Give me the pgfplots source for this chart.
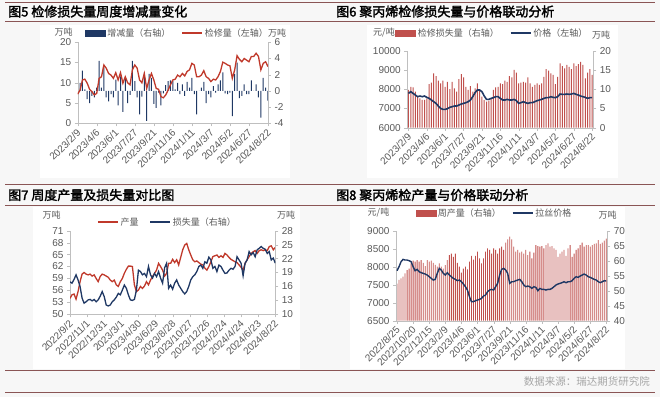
\documentclass[border=0pt]{standalone}
\usepackage{fontspec}
\setmainfont{Liberation Sans}
\newfontfamily\cjk{Noto Sans CJK SC}
\newfontfamily\cjkb{Noto Sans CJK SC}[FakeBold=2]
\usepackage{pgfplots}
\usepackage{pgfplotstable}
\pgfplotsset{compat=1.18}
\definecolor{lred}{HTML}{C0392B}
\definecolor{navyc}{HTML}{1F3864}
\definecolor{barred}{HTML}{C0504D}
\definecolor{rulec}{HTML}{8A5555}
\definecolor{tickc}{HTML}{595959}
\definecolor{axc}{HTML}{BFBFBF}
\pgfplotsset{
  base/.style={scale only axis, axis line style={axc}, major tick style={axc},
    major tick length=3pt, tick align=outside, scaled y ticks=false, scaled x ticks=false,
    yticklabel style={font=\fontsize{10}{10}\selectfont, text=tickc},
    /pgf/number format/assume math mode=true,
    /pgf/number format/1000 sep={}, enlargelimits=false},
  dates/.style={xticklabel style={rotate=45, anchor=east, font=\fontsize{10}{10}\selectfont, text=tickc, xshift=1pt, yshift=-4pt}},
  leg/.style={legend columns=2, draw=none, fill=none, inner sep=0pt,
    font=\cjk\fontsize{9}{10}\selectfont, text=tickc,
    /tikz/every even column/.append style={column sep=9pt}},
  lineleg/.style={legend image code/.code={\draw[##1] (0pt,0pt) -- (20pt,0pt);}},
}
% ---------- data ----------
\pgfplotstableread[row sep=\\]{v\\7.2\\8.2\\10.7\\10.9\\9.9\\8.4\\7.8\\7.0\\7.4\\11.1\\11.5\\14.4\\13.6\\12.3\\11.9\\11.1\\12.5\\10.7\\12.5\\9.9\\11.5\\10.0\\9.5\\13.2\\14.4\\13.6\\10.7\\10.0\\12.3\\8.6\\10.7\\12.3\\10.7\\8.6\\8.4\\6.6\\6.3\\7.0\\8.2\\9.5\\10.7\\10.9\\11.9\\11.5\\12.3\\11.7\\12.8\\13.2\\14.8\\14.4\\11.5\\11.5\\11.9\\13.0\\11.5\\11.1\\10.3\\10.9\\10.7\\11.5\\12.8\\15.1\\14.8\\14.4\\14.2\\11.1\\13.2\\16.7\\15.8\\15.2\\16.0\\15.6\\15.2\\16.5\\16.5\\17.3\\16.5\\13.2\\14.8\\15.2\\14.0\\}\Aline
\pgfplotstableread[row sep=\\]{v\\1.0\\2.5\\0.2\\-1.0\\-1.5\\-0.6\\-0.8\\0.4\\3.7\\0.4\\2.9\\-0.8\\-1.3\\-0.4\\-0.8\\1.4\\-1.8\\1.8\\-2.6\\1.6\\-1.5\\-0.5\\3.7\\1.2\\-0.8\\-2.9\\-0.7\\2.3\\-3.7\\2.1\\1.6\\-1.6\\-2.1\\-0.2\\-1.8\\-0.3\\0.7\\1.2\\1.3\\1.2\\0.2\\1.0\\-0.4\\0.8\\-0.6\\1.1\\0.4\\1.6\\-0.4\\-2.9\\0.0\\0.4\\1.1\\-1.5\\-0.4\\-0.8\\0.6\\-0.2\\0.8\\1.3\\2.3\\-0.3\\-0.4\\-0.2\\-3.1\\2.1\\3.5\\-0.9\\-0.6\\0.8\\-0.4\\-0.4\\1.3\\0.0\\0.8\\-0.8\\-3.3\\1.6\\0.4\\-1.2\\}\Abar
\pgfplotstableread[row sep=\\]{v\\9.8\\10.6\\10.5\\9.4\\8.1\\7.6\\7.2\\7.2\\7.6\\11.3\\11.7\\14.1\\13.4\\12.2\\11.5\\12.2\\10.6\\11.9\\10.0\\11.9\\10.2\\9.4\\12.6\\13.9\\13.1\\10.6\\9.8\\10.8\\9.4\\10.2\\11.5\\10.0\\8.1\\7.2\\6.8\\7.0\\7.6\\9.8\\10.5\\10.6\\11.5\\11.3\\12.2\\11.9\\13.4\\13.1\\15.0\\14.3\\11.5\\11.7\\11.9\\11.7\\13.1\\11.5\\10.6\\11.1\\11.5\\11.1\\11.5\\13.2\\15.2\\14.8\\14.1\\13.7\\11.3\\13.2\\16.7\\16.0\\15.4\\16.3\\15.8\\15.2\\16.7\\16.0\\16.5\\17.1\\16.3\\12.8\\14.3\\15.2\\13.7\\}\Bbar
\pgfplotstableread[row sep=\\]{v\\7784\\7871\\7784\\7697\\7611\\7645\\7611\\7645\\7576\\7524\\7438\\7351\\7264\\7126\\7005\\6953\\6953\\6987\\7057\\7091\\7126\\7126\\7178\\7230\\7264\\7299\\7351\\7438\\7611\\7819\\7957\\7957\\7871\\7645\\7472\\7472\\7524\\7559\\7611\\7611\\7524\\7438\\7438\\7472\\7438\\7438\\7472\\7403\\7264\\7299\\7351\\7299\\7264\\7299\\7299\\7351\\7403\\7438\\7472\\7524\\7559\\7559\\7611\\7576\\7559\\7611\\7749\\7732\\7732\\7749\\7732\\7749\\7784\\7732\\7697\\7645\\7611\\7576\\7524\\7559\\7559\\}\Bline
\pgfplotstableread[row sep=\\]{v\\54.0\\54.9\\55.1\\53.8\\55.7\\58.2\\60.1\\60.5\\60.1\\59.9\\60.1\\59.6\\59.9\\59.0\\58.2\\59.5\\60.1\\59.9\\59.6\\59.3\\58.6\\58.2\\58.6\\57.4\\57.0\\58.2\\59.0\\60.3\\61.3\\62.1\\62.1\\62.0\\57.4\\55.7\\56.1\\57.0\\56.5\\57.1\\58.2\\57.4\\58.6\\59.5\\60.3\\61.1\\62.8\\62.0\\61.1\\59.6\\60.3\\62.8\\62.8\\63.8\\63.0\\63.7\\62.4\\64.3\\66.2\\67.4\\67.8\\66.2\\64.9\\63.7\\63.2\\63.4\\63.0\\62.6\\62.4\\61.6\\61.1\\62.0\\63.2\\64.5\\64.7\\64.9\\64.3\\64.7\\64.3\\65.3\\64.9\\64.3\\63.8\\63.5\\63.2\\63.0\\62.4\\61.8\\61.1\\62.8\\63.7\\64.5\\65.3\\65.7\\66.0\\65.3\\66.0\\66.2\\66.0\\66.2\\66.0\\67.0\\67.2\\66.2\\66.8\\}\Cred
\pgfplotstableread[row sep=\\]{v\\17.0\\16.7\\17.5\\18.5\\17.4\\16.0\\13.5\\12.4\\12.7\\13.1\\13.2\\12.9\\13.2\\12.7\\13.1\\13.9\\14.9\\13.8\\12.0\\11.8\\12.0\\12.7\\13.1\\13.7\\14.5\\14.2\\15.2\\16.3\\15.6\\14.2\\13.1\\13.0\\13.2\\15.2\\19.5\\19.2\\18.5\\18.8\\18.1\\20.3\\18.5\\17.8\\18.8\\18.1\\19.2\\17.8\\16.7\\20.0\\21.0\\15.6\\16.3\\15.4\\16.7\\17.4\\16.3\\15.6\\14.9\\14.4\\14.9\\16.0\\17.4\\18.1\\18.5\\19.2\\20.3\\20.6\\19.9\\21.3\\21.0\\22.3\\21.7\\19.9\\20.3\\19.2\\20.6\\20.3\\19.5\\18.8\\18.9\\19.5\\19.9\\19.7\\20.3\\22.4\\21.7\\21.0\\18.3\\21.0\\21.7\\23.5\\22.8\\23.3\\22.4\\23.9\\24.2\\24.6\\24.2\\24.0\\23.1\\23.5\\21.7\\22.1\\21.0\\}\Cnavy
\pgfplotstableread[row sep=\\]{v\\52.4\\53.6\\54.1\\54.7\\55.8\\56.9\\57.4\\59.1\\60.0\\59.7\\60.2\\59.7\\60.2\\59.3\\58.2\\60.2\\59.7\\60.0\\59.3\\58.6\\58.0\\59.1\\58.0\\57.4\\58.5\\60.2\\61.9\\62.4\\61.3\\62.4\\59.3\\58.0\\56.0\\57.4\\58.0\\57.1\\59.7\\61.6\\60.4\\61.6\\63.0\\60.8\\59.1\\60.8\\63.0\\64.1\\63.6\\62.4\\64.1\\63.6\\62.4\\64.1\\64.7\\63.6\\66.0\\67.1\\68.0\\67.1\\64.7\\63.0\\63.6\\62.7\\63.0\\62.4\\63.6\\61.9\\63.0\\60.8\\62.7\\65.2\\64.9\\64.7\\64.9\\64.1\\65.2\\65.8\\64.7\\64.9\\64.1\\63.6\\61.3\\62.4\\63.0\\63.6\\61.6\\64.1\\65.2\\61.3\\62.4\\63.6\\64.1\\65.2\\66.0\\64.7\\65.2\\65.2\\64.7\\65.2\\65.6\\65.8\\66.9\\65.6\\66.0\\66.7\\67.4\\}\Dbar
\pgfplotstableread[row sep=\\]{v\\7889\\8000\\8139\\8204\\8185\\8185\\8167\\8139\\8000\\7889\\7926\\7861\\7833\\7815\\7796\\7769\\7722\\7676\\7630\\7648\\7815\\7954\\7907\\7815\\7769\\7833\\7769\\7722\\7676\\7648\\7611\\7630\\7583\\7519\\7444\\7352\\7167\\7028\\7028\\7056\\7074\\7093\\7120\\7185\\7213\\7306\\7352\\7370\\7352\\7444\\7537\\7769\\7926\\7954\\7907\\7815\\7537\\7583\\7583\\7611\\7630\\7648\\7583\\7491\\7444\\7463\\7444\\7398\\7444\\7426\\7333\\7398\\7370\\7370\\7352\\7370\\7370\\7398\\7444\\7491\\7519\\7537\\7556\\7583\\7556\\7583\\7583\\7611\\7676\\7722\\7704\\7741\\7769\\7796\\7769\\7722\\7704\\7676\\7648\\7630\\7583\\7556\\7583\\7611\\7602\\}\Dline
\begin{document}
\begin{tikzpicture}
\path[use as bounding box] (0pt,0pt) rectangle (660pt,397pt);
\fill[gray!6] (0pt,0pt) rectangle (660pt,397pt);
\fill[white] (40pt,219pt) rectangle (290pt,372pt);
\fill[white] (367pt,219pt) rectangle (618pt,372pt);
\fill[white] (33pt,28pt) rectangle (300pt,190pt);
\fill[white] (350pt,28pt) rectangle (625pt,190pt);
\foreach \yy in {394.5,376,213,191.5,26.5,5} {\draw[rulec, line width=0.9pt] (5pt,\yy pt) -- (655pt,\yy pt);}
\node[anchor=west, inner sep=0pt] at (8pt,385.5pt) {\cjkb\fontsize{13}{13}\selectfont 图5 检修损失量周度增减量变化};
\node[anchor=west, inner sep=0pt] at (336pt,385.5pt) {\cjkb\fontsize{13}{13}\selectfont 图6 聚丙烯检修损失量与价格联动分析};
\node[anchor=west, inner sep=0pt] at (8pt,202pt) {\cjkb\fontsize{13}{13}\selectfont 图7 周度产量及损失量对比图};
\node[anchor=west, inner sep=0pt] at (336pt,202pt) {\cjkb\fontsize{13}{13}\selectfont 图8 聚丙烯检产量与价格联动分析};
\node[anchor=east, inner sep=0pt, text=gray!70] at (650pt,16pt) {\cjk\fontsize{10.5}{11}\selectfont 数据来源：瑞达期货研究院};
% unit labels
\begin{scope}[every node/.style={inner sep=0pt, text=tickc, font=\cjk\fontsize{9}{10}\selectfont}]
\node at (63.5pt,365pt) {万吨};
\node at (277pt,364pt) {万吨};
\node at (384pt,364pt) {元/吨};
\node at (601pt,362pt) {万吨};
\node at (51.5pt,182pt) {万吨};
\node at (286pt,182pt) {万吨};
\node at (378.5pt,184pt) {元/吨};
\node at (607.5pt,182pt) {万吨};
\end{scope}
% ================= Panel 1 =================
\begin{axis}[base, at={(77.7pt,273.7pt)}, anchor=south west, width=190.3pt, height=81pt,
  xmin=0, xmax=80, ymin=-4, ymax=6, ytick={-4,-2,...,6},
  axis y line*=right, axis x line=none]
\addplot[ybar, bar width=1pt, fill=navyc, draw=none] table[x expr=\coordindex+1, y=v] {\Abar};
\end{axis}
\begin{axis}[base, dates, at={(77.7pt,273.7pt)}, anchor=south west, width=190.3pt, height=81pt,
  xmin=0, xmax=80, ymin=0, ymax=20, ytick={0,5,...,20},
  axis y line*=left, axis x line*=bottom, xtick={0,8,...,80},
  xticklabels={2023/2/9,2023/4/6,2023/6/1,2023/7/27,2023/9/21,2023/11/16,2024/1/11,2024/3/7,2024/5/2,2024/6/27,2024/8/22},
  legend style={leg, at={(0.524,1.115)}, anchor=center}]
\addlegendimage{legend image code/.code={\fill[navyc] (0pt,-3pt) rectangle (20pt,3pt);}}
\addlegendentry{增减量（右轴）}
\addplot[lred, line width=1.3pt, lineleg] table[x expr=\coordindex, y=v] {\Aline};
\addlegendentry{检修量（左轴）}
\end{axis}
% ================= Panel 2 =================
\begin{axis}[base, at={(407.3pt,269.3pt)}, anchor=south west, width=186pt, height=77pt,
  xmin=-0.5, xmax=80.5, ymin=0, ymax=20, ytick={0,5,...,20},
  axis y line*=right, axis x line=none]
\addplot[ybar, bar width=1.0pt, fill=barred, draw=none] table[x expr=\coordindex, y=v] {\Bbar};
\end{axis}
\begin{axis}[base, dates, at={(407.3pt,269.3pt)}, anchor=south west, width=186pt, height=77pt,
  xmin=-0.5, xmax=80.5, ymin=6000, ymax=10000, ytick={6000,7000,...,10000},
  axis y line*=left, axis x line*=bottom, xtick={0,8,...,80},
  xticklabels={2023/2/9,2023/4/6,2023/6/1,2023/7/27,2023/9/21,2023/11/16,2024/1/11,2024/3/7,2024/5/2,2024/6/27,2024/8/22},
  legend style={leg, at={(0.458,1.23)}, anchor=center}]
\addlegendimage{legend image code/.code={\fill[barred] (0pt,-3pt) rectangle (20pt,3pt);}}
\addlegendentry{检修损失量（右轴）}
\addplot[navyc, line width=1.6pt, lineleg] table[x expr=\coordindex, y=v] {\Bline};
\addlegendentry{价格（左轴）}
\end{axis}
% ================= Panel 3 =================
\begin{axis}[base, dates, at={(70pt,82.7pt)}, anchor=south west, width=205.3pt, height=83.6pt,
  xmin=0, xmax=720, ymin=50, ymax=71, ytick={50,53,...,71},
  axis y line*=left, axis x line*=bottom, xtick={0,60,...,720},
  xticklabels={2022/9/2,2022/11/1,2022/12/31,2023/3/1,2023/4/30,2023/6/29,2023/8/28,2023/10/27,2023/12/26,2024/2/24,2024/4/24,2024/6/23,2024/8/22}]
\addplot[lred, line width=1.3pt] table[x expr=\coordindex*7.0588, y=v] {\Cred};
\end{axis}
\begin{axis}[base, at={(70pt,82.7pt)}, anchor=south west, width=205.3pt, height=83.6pt,
  xmin=0, xmax=720, ymin=10, ymax=28, ytick={10,13,...,28},
  axis y line*=right, axis x line=none,
  legend style={leg, at={(0.475,1.104)}, anchor=center}]
\addlegendimage{lred, line width=1.3pt, lineleg}
\addlegendentry{产量}
\addplot[navyc, line width=1.3pt, lineleg] table[x expr=\coordindex*7.0588, y=v] {\Cnavy};
\addlegendentry{损失量（右轴）}
\end{axis}
% ================= Panel 4 =================
\begin{axis}[base, at={(396pt,76.3pt)}, anchor=south west, width=211.3pt, height=90pt,
  xmin=-0.5, xmax=104.5, ymin=40, ymax=70, ytick={40,45,...,70},
  axis y line*=right, axis x line=none]
\addplot[ybar, bar width=0.85pt, fill=barred, draw=none] table[x expr=\coordindex, y=v] {\Dbar};
\end{axis}
\begin{axis}[base, dates, at={(396pt,76.3pt)}, anchor=south west, width=211.3pt, height=90pt,
  xmin=-0.5, xmax=104.5, ymin=6500, ymax=9000, ytick={6500,7000,...,9000},
  axis y line*=left, axis x line*=bottom, xtick={0,8,...,104},
  xticklabels={2022/8/25,2022/10/20,2022/12/15,2023/2/9,2023/4/6,2023/6/1,2023/7/27,2023/9/21,2023/11/16,2024/1/11,2024/3/7,2024/5/2,2024/6/27,2024/8/22},
  legend style={leg, at={(0.466,1.197)}, anchor=center}]
\addlegendimage{legend image code/.code={\fill[barred] (0pt,-3pt) rectangle (20pt,3pt);}}
\addlegendentry{周产量（右轴）}
\addplot[navyc, line width=1.4pt, lineleg] table[x expr=\coordindex, y=v] {\Dline};
\addlegendentry{拉丝价格}
\end{axis}
\end{tikzpicture}
\end{document}
